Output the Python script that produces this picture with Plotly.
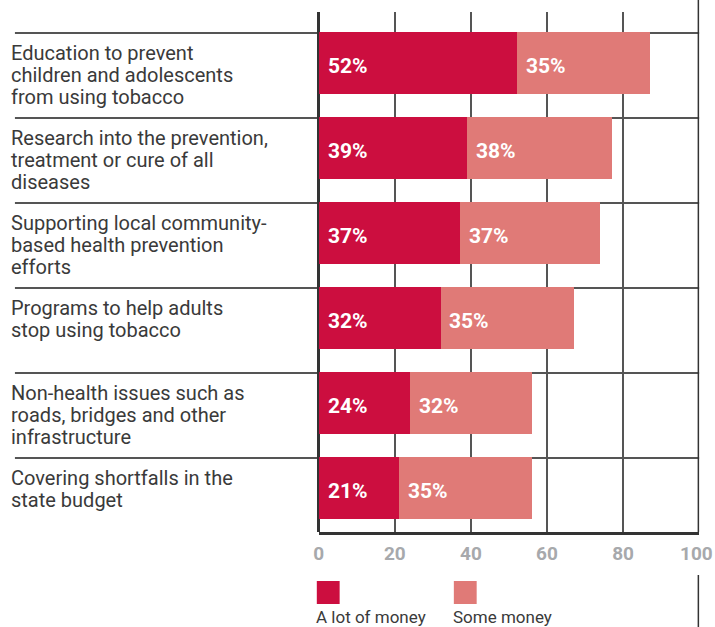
import plotly.graph_objects as go

categories = [
    "Education to prevent<br>children and adolescents<br>from using tobacco",
    "Research into the prevention,<br>treatment or cure of all<br>diseases",
    "Supporting local community-<br>based health prevention<br>efforts",
    "Programs to help adults<br>stop using tobacco",
    "Non-health issues such as<br>roads, bridges and other<br>infrastructure",
    "Covering shortfalls in the<br>state budget",
]
a_lot = [52, 39, 37, 32, 24, 21]
some = [35, 38, 37, 35, 32, 35]
series_names = ["A lot of money", "Some money"]
x_ticks = [0, 20, 40, 60, 80, 100]

DARK = "#CC0E3F"
LIGHT = "#E07A77"
LINE = "#333333"
GRID = "#555555"
TXT = "#3A3A3A"
TICK = "#A7A9AC"
FONT = "Roboto"

W, H = 715, 627
def px(x):
    return x / W
def py(y):
    return 1 - y / H

pos = list(range(len(categories)))
fig = go.Figure()
fig.add_trace(go.Bar(y=pos, x=a_lot, orientation="h", marker=dict(color=DARK, line=dict(width=0)),
                     width=0.73, name=series_names[0], hoverinfo="x"))
fig.add_trace(go.Bar(y=pos, x=some, base=a_lot, orientation="h", marker=dict(color=LIGHT, line=dict(width=0)),
                     width=0.73, name=series_names[1], hoverinfo="x"))

ann = []
shapes = []
for i, (cat, a, s) in enumerate(zip(categories, a_lot, some)):
    for j, line in enumerate(cat.split("<br>")):
        ann.append(dict(x=px(4), xref="paper", y=i, yref="y", text=line, showarrow=False,
                        xanchor="left", yanchor="middle", yshift=10 - 22 * j,
                        font=dict(family=FONT, size=20, color=TXT)))
    ann.append(dict(x=0, y=i, xref="x", yref="y", text=f"{a}%", showarrow=False,
                    xanchor="left", yanchor="middle", xshift=7, yshift=-3,
                    font=dict(family=FONT, size=21, color="white", weight="bold")))
    ann.append(dict(x=a, y=i, xref="x", yref="y", text=f"{s}%", showarrow=False,
                    xanchor="left", yanchor="middle", xshift=7, yshift=-3,
                    font=dict(family=FONT, size=21, color="white", weight="bold")))
    shapes.append(dict(type="line", xref="paper", yref="y", x0=px(10), x1=px(699),
                       y0=i - 30 / 85, y1=i - 30 / 85, line=dict(color=GRID, width=2), layer="between"))

shapes.append(dict(type="line", xref="x", yref="paper", x0=100, x1=100, y0=py(532), y1=1,
                   line=dict(color=LINE, width=3), layer="above"))
shapes.append(dict(type="line", xref="x", yref="paper", x0=100, x1=100, y0=0, y1=py(575),
                   line=dict(color=LINE, width=3), layer="above"))

# last tick label (would overflow the page edge): keep it inside the page, right-aligned
ann.append(dict(x=1, xref="paper", y=py(553), yref="paper", text=str(x_ticks[-1]), showarrow=False,
                xanchor="right", yanchor="middle",
                font=dict(family=FONT, size=19, color=TICK, weight="bold")))

for k, (name, col) in enumerate(zip(series_names, [DARK, LIGHT])):
    x0 = 314 + 138 * k
    shapes.append(dict(type="rect", xref="paper", yref="paper", x0=px(x0), x1=px(x0 + 23),
                       y0=py(604), y1=py(581), fillcolor=col, line=dict(width=0)))
    ann.append(dict(x=px(x0 - 3), y=py(617), xref="paper", yref="paper", text=name, showarrow=False,
                    xanchor="left", yanchor="middle",
                    font=dict(family=FONT, size=17, color=TXT)))

fig.update_layout(
    width=W, height=H, margin=dict(l=0, r=0, t=0, b=0),
    paper_bgcolor="white", plot_bgcolor="white",
    barmode="stack", bargap=0, showlegend=False,
    annotations=ann, shapes=shapes,
    xaxis=dict(domain=[px(316), px(699)], range=[0, 100], tickvals=x_ticks[:-1],
               showgrid=True, gridcolor=GRID, gridwidth=1.5,
               zeroline=True, zerolinecolor=LINE, zerolinewidth=3,
               showline=True, linecolor=LINE, linewidth=3,
               ticks="outside", ticklen=2, tickcolor="rgba(0,0,0,0)",
               tickfont=dict(family=FONT, size=19, color=TICK, weight="bold"),
               fixedrange=True),
    yaxis=dict(domain=[py(532), py(12)], range=[(532 - 63) / 85, (12 - 63) / 85],
               showgrid=False, zeroline=False, showticklabels=False, fixedrange=True),
)

fig.write_html(
    "out.html", config={"displayModeBar": False},
    post_script="document.body.style.margin='0';",
)
